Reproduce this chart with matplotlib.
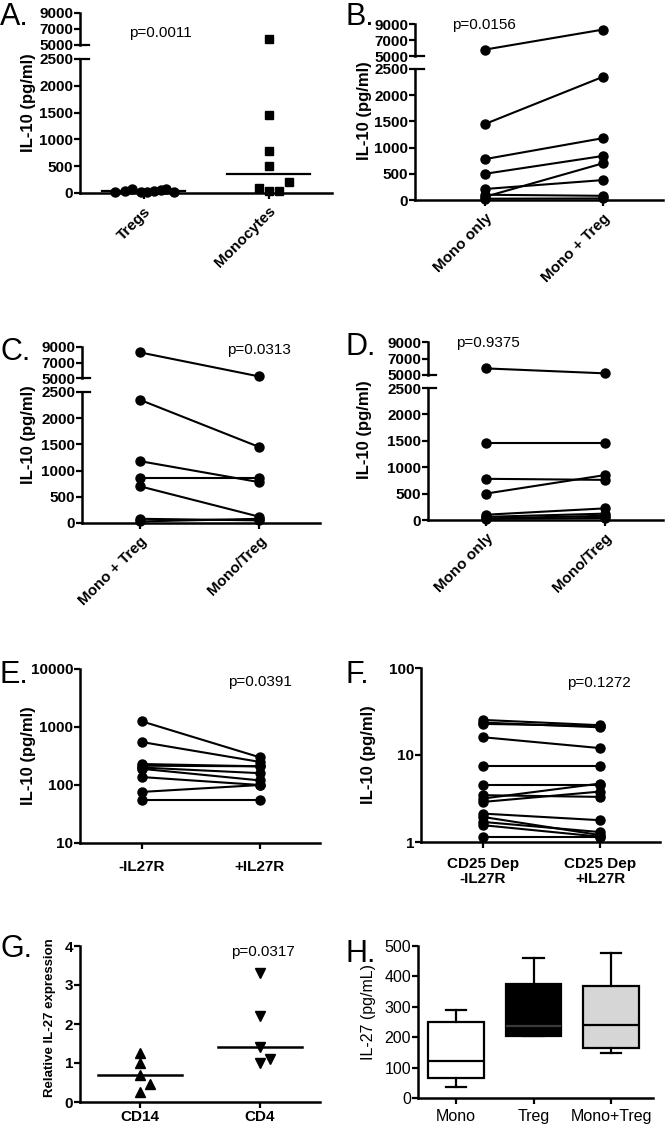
import numpy as np
import matplotlib
matplotlib.use('Agg')
import matplotlib.pyplot as plt
from matplotlib.ticker import NullLocator

plt.rcParams['font.family'] = ['Liberation Sans', 'DejaVu Sans']

# ---- data ----
# A: IL-10 from Tregs vs monocytes (dot plot, line = median)
a_tregs = [15, 30, 70, 25, 15, 30, 50, 80, 10]
a_tregs_jit = [-0.23, -0.15, -0.09, -0.02, 0.03, 0.08, 0.14, 0.18, 0.24]
a_mono = [5800, 1450, 780, 500, 100, 30, 30, 210]
a_mono_jit = [0, 0, 0, 0, -0.08, 0, 0.08, 0.16]
a_labels = ['Tregs', 'Monocytes']

# B: Mono only -> Mono + Treg
b_left = [5800, 1450, 780, 500, 210, 60, 100, 25]
b_right = [8300, 2350, 1180, 840, 380, 700, 80, 30]
b_labels = ['Mono only', 'Mono + Treg']

# C: Mono + Treg -> Mono/Treg
c_left = [8300, 2350, 1180, 850, 700, 80, 30]
c_right = [5200, 1450, 780, 850, 120, 50, 80]
c_labels = ['Mono + Treg', 'Mono/Treg']

# D: Mono only -> Mono/Treg
d_left = [5800, 1450, 780, 500, 100, 60, 30, 20]
d_right = [5200, 1450, 760, 850, 220, 120, 80, 40]
d_labels = ['Mono only', 'Mono/Treg']

# E: -IL27R -> +IL27R (log)
e_left = [1250, 550, 230, 215, 200, 190, 137, 76, 55]
e_right = [300, 250, 210, 210, 160, 120, 100, 100, 55]
e_labels = ['-IL27R', '+IL27R']

# F: CD25 depleted -IL27R -> +IL27R (log)
f_left = [25.3, 23.6, 22.8, 16.0, 7.5, 4.5, 3.45, 3.16, 2.89, 2.12, 1.94, 1.70, 1.56, 1.14]
f_right = [22.0, 20.8, 21.5, 12.0, 7.5, 4.5, 3.3, 4.7, 3.8, 1.78, 1.20, 1.30, 1.15, 1.14]
f_labels = ['CD25 Dep\n-IL27R', 'CD25 Dep\n+IL27R']

# G: relative IL-27 expression
g_cd14 = [1.25, 1.0, 0.7, 0.45, 0.25]
g_cd14_jit = [0, 0, 0, 0.08, 0]
g_cd4 = [3.3, 2.2, 1.42, 1.0, 1.1]
g_cd4_jit = [0, 0, 0, 0, 0.08]
g_labels = ['CD14', 'CD4']

# H: IL-27 box plots
h_labels = ['Mono', 'Treg', 'Mono+Treg']
h_whislo = [36, 203, 148]
h_q1 = [66, 204, 164]
h_med = [122, 237, 240]
h_q3 = [250, 375, 368]
h_whishi = [289, 460, 477]
h_colors = ['white', 'black', '#d6d6d6']

p_values = ['p=0.0011', 'p=0.0156', 'p=0.0313', 'p=0.9375',
            'p=0.0391', 'p=0.1272', 'p=0.0317']

W, H = 666, 1130
fig = plt.figure(figsize=(6.66, 11.3), dpi=100)
FS = 11       # tick labels
PFS = 11      # p-values
YFS = 12      # y labels
LW = 1.8


def add_ax(x0, x1, ytop, ybot):
    return fig.add_axes([x0 / W, 1 - ybot / H, (x1 - x0) / W, (ybot - ytop) / H])


def base_style(ax, bottom=True):
    ax.spines['top'].set_visible(False)
    ax.spines['right'].set_visible(False)
    ax.spines['left'].set_linewidth(LW)
    ax.spines['bottom'].set_linewidth(LW)
    if not bottom:
        ax.spines['bottom'].set_visible(False)
    ax.tick_params(width=1.6, length=4, pad=1, labelsize=FS)
    ax.patch.set_alpha(0)


def ftext(px, py, s, **kw):
    fig.text(px / W, 1 - py / H, s, **kw)


def broken_panel(x0, x1, top_px, bot_px, xlim, labels):
    ax_t = add_ax(x0, x1, top_px[0], top_px[1])
    ax_b = add_ax(x0, x1, bot_px[0], bot_px[1])
    base_style(ax_t, bottom=False)
    base_style(ax_b)
    ax_t.set_ylim(5000, 9000)
    ax_b.set_ylim(0, 2500)
    for ax in (ax_t, ax_b):
        ax.set_xlim(*xlim)
    ax_t.set_xticks([])
    ax_t.set_yticks([5000, 7000, 9000], ['5000', '7000', '9000'], fontweight='bold')
    ticks = list(range(0, 2501, 500))
    ax_b.set_yticks(ticks, [str(t) for t in ticks], fontweight='bold')
    ax_b.set_xticks([0, 1], labels, rotation=45, ha='right', rotation_mode='anchor',
                    fontweight='bold', fontsize=FS)
    ax_b.tick_params(axis='x', pad=4)
    # axis break marks
    ax_t.plot([0, 0.035], [0, 0], transform=ax_t.transAxes, color='k', lw=1.6, clip_on=False)
    ax_b.plot([0, 0.035], [1, 1], transform=ax_b.transAxes, color='k', lw=1.6, clip_on=False)
    return ax_t, ax_b


def paired(ax_t, ax_b, left, right):
    for a, b in zip(left, right):
        ax = ax_t if min(a, b) >= 5000 else ax_b
        ax.plot([0, 1], [a, b], color='k', lw=1.5, marker='o', ms=6.5,
                clip_on=False, zorder=3)


# ---- A ----
ax_t, ax_b = broken_panel(80, 332, (13, 45), (59, 193), (-0.508, 1.508), a_labels)
for vals, jit, xc in ((a_tregs, a_tregs_jit, 0), (a_mono, a_mono_jit, 1)):
    vals = np.array(vals)
    x = xc + np.array(jit)
    mk = 'o' if xc == 0 else 's'
    ms = 6.5 if xc == 0 else 6
    hi = vals >= 5000
    ax_t.plot(x[hi], vals[hi], mk, color='k', ms=ms, clip_on=False, zorder=3)
    ax_b.plot(x[~hi], vals[~hi], mk, color='k', ms=ms, clip_on=False, zorder=3)
    ax_b.plot([xc - 0.33, xc + 0.33], [np.median(vals)] * 2, color='k', lw=1.6, clip_on=False)
ftext(160, 33, p_values[0], ha='center', va='center', fontsize=PFS)

# ---- B ----
ax_t, ax_b = broken_panel(415, 663, (24, 56), (69, 200), (-0.593, 1.51), b_labels)
paired(ax_t, ax_b, b_left, b_right)
ftext(484, 25, p_values[1], ha='center', va='center', fontsize=PFS)

# ---- C ----
ax_t, ax_b = broken_panel(82, 320, (347, 378), (392, 523), (-0.487, 1.51), c_labels)
paired(ax_t, ax_b, c_left, c_right)
ftext(259, 350, p_values[2], ha='center', va='center', fontsize=PFS)

# ---- D ----
ax_t, ax_b = broken_panel(428, 663, (342, 375), (388, 520), (-0.487, 1.49), d_labels)
paired(ax_t, ax_b, d_left, d_right)
ftext(488, 343, p_values[3], ha='center', va='center', fontsize=PFS)

# ---- E ----
ax = add_ax(80, 320, 669, 843)
base_style(ax)
ax.set_yscale('log')
ax.set_ylim(10, 10000)
ax.set_xlim(-0.525, 1.51)
ax.yaxis.set_minor_locator(NullLocator())
ax.set_yticks([10, 100, 1000, 10000], ['10', '100', '1000', '10000'], fontweight='bold')
ax.set_xticks([0, 1], e_labels, fontweight='bold', fontsize=FS)
ax.tick_params(axis='x', pad=8)
for a, b in zip(e_left, e_right):
    ax.plot([0, 1], [a, b], color='k', lw=1.5, marker='o', ms=6.5, clip_on=False, zorder=3)
ftext(260, 682, p_values[4], ha='center', va='center', fontsize=PFS)

# ---- F ----
ax = add_ax(421, 660, 668, 842)
base_style(ax)
ax.set_yscale('log')
ax.set_ylim(1, 100)
ax.set_xlim(-0.53, 1.51)
ax.yaxis.set_minor_locator(NullLocator())
ax.set_yticks([1, 10, 100], ['1', '10', '100'], fontweight='bold')
ax.set_xticks([0, 1], f_labels, fontweight='bold', fontsize=FS, linespacing=1.05)
ax.tick_params(axis='x', pad=7)
for a, b in zip(f_left, f_right):
    ax.plot([0, 1], [a, b], color='k', lw=1.5, marker='o', ms=6.5, clip_on=False, zorder=3)
ftext(599, 683, p_values[5], ha='center', va='center', fontsize=PFS)

# ---- G ----
ax = add_ax(80, 320, 946, 1102)
base_style(ax)
ax.set_ylim(0, 4)
ax.set_xlim(-0.5, 1.5)
ax.set_yticks(range(5), [str(i) for i in range(5)], fontweight='bold')
ax.set_xticks([0, 1], g_labels, fontweight='bold', fontsize=FS)
ax.tick_params(axis='x', pad=2)
for vals, jit, xc, mk in ((g_cd14, g_cd14_jit, 0, '^'), (g_cd4, g_cd4_jit, 1, 'v')):
    ax.plot(xc + np.array(jit), vals, mk, color='k', ms=7.5, clip_on=False, zorder=3)
    ax.plot([xc - 0.35, xc + 0.35], [np.median(vals)] * 2, color='k', lw=1.8)
ftext(263, 952, p_values[6], ha='center', va='center', fontsize=PFS)

# ---- H ----
ax = add_ax(418, 653, 946, 1098)
base_style(ax)
stats = [dict(whislo=lo, q1=q1, med=m, q3=q3, whishi=hi, label=lab)
         for lo, q1, m, q3, hi, lab in zip(h_whislo, h_q1, h_med, h_q3, h_whishi, h_labels)]
bp = ax.bxp(stats, positions=[0, 1, 2], widths=0.72, patch_artist=True, showfliers=False,
            boxprops=dict(linewidth=1.6, edgecolor='k'),
            whiskerprops=dict(linewidth=1.6, color='k'),
            capprops=dict(linewidth=1.6, color='k'),
            medianprops=dict(linewidth=1.6, color='k'), capwidths=0.26)
for box, c in zip(bp['boxes'], h_colors):
    box.set_facecolor(c)
bp['medians'][1].set_color('#3a3a3a')
ax.set_ylim(0, 500)
ax.set_xlim(-0.49, 2.54)
ax.set_yticks(range(0, 501, 100), [str(t) for t in range(0, 501, 100)], fontsize=11.5)
ax.set_xticks([0, 1, 2], h_labels, fontsize=11.5)
ax.tick_params(axis='x', pad=4)

# ---- y labels ----
for px, py in ((29, 103), (364, 111), (28, 435), (364, 430), (28, 756), (369, 755)):
    ftext(px, py, 'IL-10 (pg/ml)', rotation=90, ha='center', va='center',
          fontsize=YFS, fontweight='bold')
ftext(50, 1018, 'Relative IL-27 expression', rotation=90, ha='center', va='center',
      fontsize=9.5, fontweight='bold')
ftext(368, 1012, 'IL-27 (pg/mL)', rotation=90, ha='center', va='center', fontsize=11.5)

# ---- panel letters ----
for s, px, py in (('A.', 0, 25), ('B.', 345, 25), ('C.', 0, 360), ('D.', 345, 355),
                  ('E.', 0, 683), ('F.', 345, 683), ('G.', 0, 957), ('H.', 345, 962)):
    ftext(px, py, s, ha='left', va='baseline', fontsize=22)

fig.savefig('out.png', dpi=100)
